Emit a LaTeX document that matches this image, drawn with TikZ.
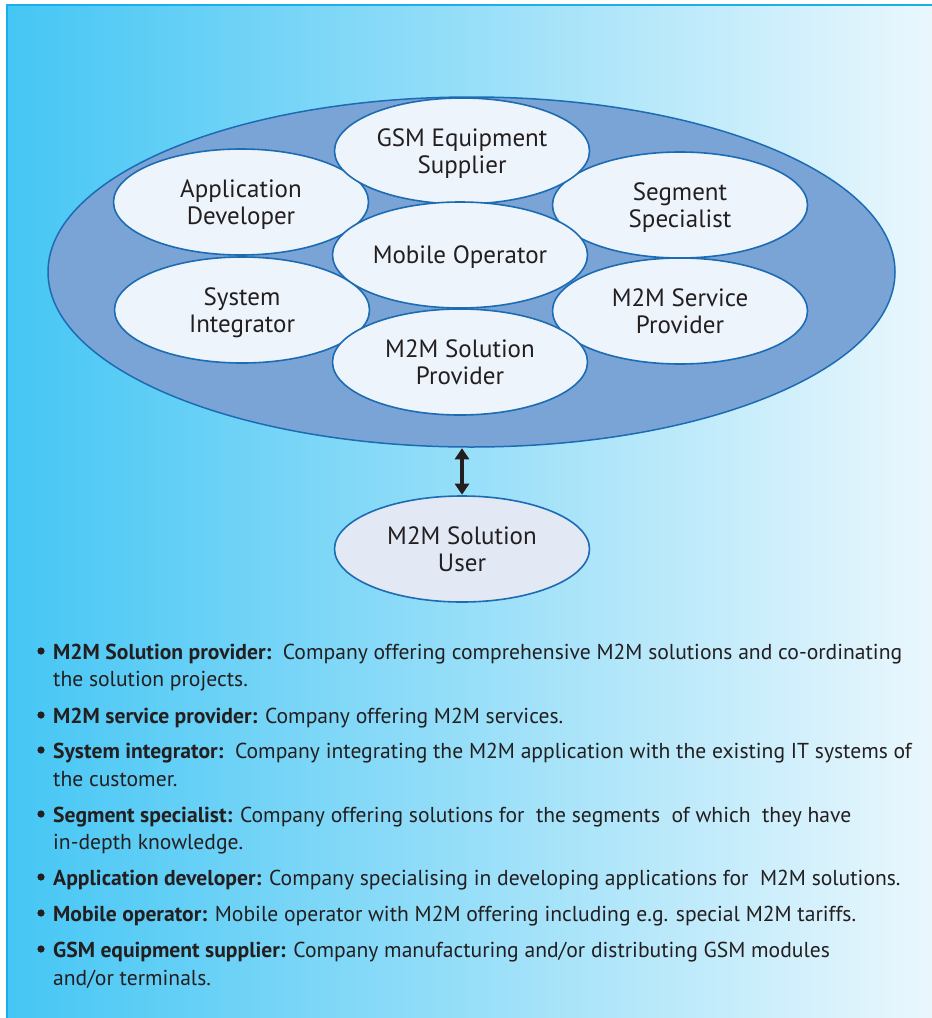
\documentclass[tikz,border=0pt]{standalone}
\usepackage{fontspec}
\setmainfont{PT Sans}
\usetikzlibrary{shapes.geometric,arrows.meta}

\definecolor{frameblue}{HTML}{1AAEEB}
\definecolor{bgleft}{HTML}{45C6F4}
\definecolor{bgright}{HTML}{EAF7FD}
\definecolor{ringfill}{HTML}{7BA4D6}
\definecolor{edgeblue}{HTML}{1C6CB4}
\definecolor{rolefill}{HTML}{EEF4FB}
\definecolor{userfill}{HTML}{E2E8F4}
\definecolor{ink}{HTML}{231F20}

\begin{document}
\begin{tikzpicture}[x=1pt,y=-1pt,
  cluster/.style={ellipse, draw=edgeblue, line width=1.5pt, fill=ringfill,
    minimum width=847pt, minimum height=350pt, inner sep=0pt},
  role/.style={ellipse, draw=edgeblue, line width=1.6pt, fill=rolefill,
    minimum width=255pt, minimum height=106pt, inner sep=0pt, align=center,
    text depth=0pt, text=ink, font=\fontsize{25}{27}\selectfont},
  userrole/.style={role, fill=userfill},
  link/.style={{Triangle[width=14pt,length=11pt]}-{Triangle[width=14pt,length=11pt]},
    line width=4pt, draw=ink, shorten <=0.5pt, shorten >=0.5pt},
  item/.style={anchor=base west, inner sep=0pt, text=ink,
    font=\fontsize{21.6}{24}\selectfont},
  dot/.style={fill=ink}
]
\useasboundingbox (0,0) rectangle (932,1018);

% panel background and frame
\shade[left color=bgleft, right color=bgright] (7,5) rectangle (932,1018);
\draw[frameblue, line width=2pt] (7,1018) -- (7,5) -- (932,5);

% the value network
\node[cluster] (net) at (471.5,272) {};
\node[role] (appdev) at (241,202) {Application\\Developer};
\node[role] (sysint) at (242,310) {System\\Integrator};
\node[role] (segment) at (680,205) {Segment\\Specialist};
\node[role] (service) at (680,311) {M2M Service\\Provider};
\node[role] (gsm) at (462,151) {GSM Equipment\\Supplier};
\node[role] (mobile) at (460,255) {Mobile Operator};
\node[role] (solution) at (460,362) {M2M Solution\\Provider};

% the user
\node[userrole] (user) at (462,549) {M2M Solution\\User};
\draw[link] (net.south -| user.north) -- (user.north);

% role descriptions
\foreach \yy in {651,715,750,814,877,913,949}
  \fill[dot] (41,\yy) circle (3.6pt);

\node[item] (t1) at (53,659) {\textbf{M2M Solution provider:}\ \ Company offering comprehensive M2M solutions and co-ordinating};
\node[item] (t2) at (53,686) {the solution projects.};
\node[item] (t3) at (53,723) {\textbf{M2M service provider:} Company offering M2M services.};
\node[item] (t4) at (53,758) {\textbf{System integrator:}\ \ Company integrating the M2M application with the existing IT systems of};
\node[item] (t5) at (53,786) {the customer.};
\node[item] (t6) at (53,822) {\textbf{Segment specialist:} Company offering solutions for\ \ the segments\ \ of which\ \ they have};
\node[item] (t7) at (53,849) {in-depth knowledge.};
\node[item] (t8) at (53,885) {\textbf{Application developer:} Company specialising in developing applications for\ \ M2M solutions.};
\node[item] (t9) at (53,921) {\textbf{Mobile operator:} Mobile operator with M2M offering including e.g. special M2M tariffs.};
\node[item] (t10) at (53,957) {\textbf{GSM equipment supplier:} Company manufacturing and/or distributing GSM modules};
\node[item] (t11) at (53,985) {and/or terminals.};
\end{tikzpicture}
\end{document}
